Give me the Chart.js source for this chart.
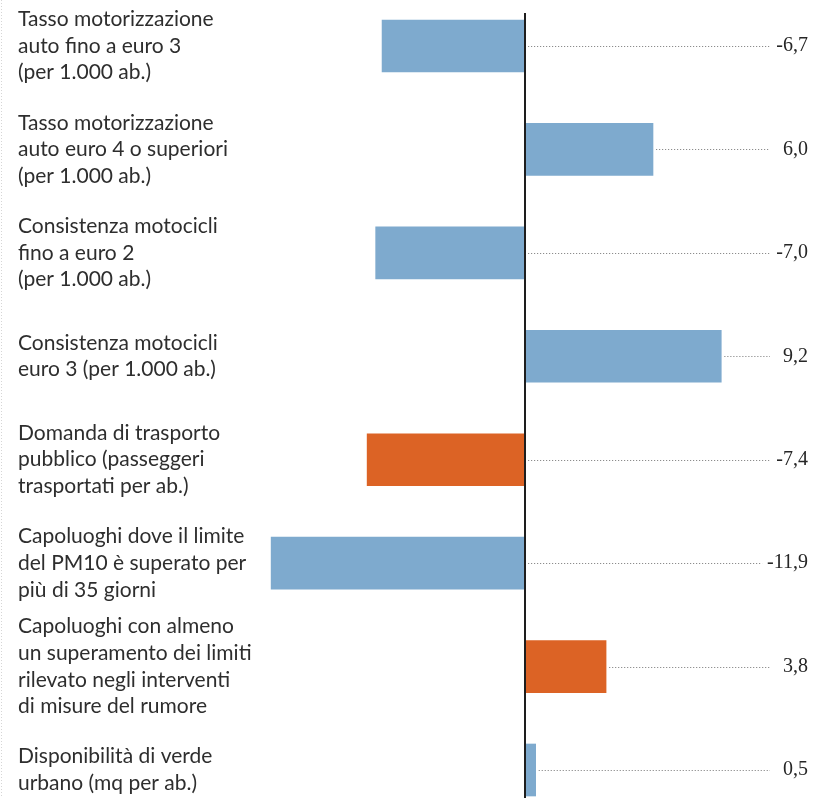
<!DOCTYPE html>
<html lang="it">
<head>
<meta charset="utf-8">
<title>Indicatori ambientali</title>
<script src="https://cdn.jsdelivr.net/npm/chart.js@4/dist/chart.umd.min.js"></script>
<style>
  html, body { margin: 0; padding: 0; background: #fff; }
  #wrap { position: relative; width: 814px; height: 798px; }
</style>
</head>
<body>
<div id="wrap"><canvas id="indicatorChart"></canvas></div>
<script>
// Indicator names (multi-line) and variation values
const indicatorLabels = [
    ['Tasso motorizzazione', 'auto fino a euro 3', '(per 1.000 ab.)'],
    ['Tasso motorizzazione', 'auto euro 4 o superiori', '(per 1.000 ab.)'],
    ['Consistenza motocicli', 'fino a euro 2', '(per 1.000 ab.)'],
    ['Consistenza motocicli', 'euro 3 (per 1.000 ab.)'],
    ['Domanda di trasporto', 'pubblico (passeggeri', 'trasportati per ab.)'],
    ['Capoluoghi dove il limite', 'del PM10 è superato per', 'più di 35 giorni'],
    ['Capoluoghi con almeno', 'un superamento dei limiti', 'rilevato negli interventi', 'di misure del rumore'],
    ['Disponibilità di verde', 'urbano (mq per ab.)']
];
const variationValues = [-6.7, 6.0, -7.0, 9.2, -7.4, -11.9, 3.8, 0.5];
const highlightRows = [4, 6];

const BLUE = '#7eaace';
const ORANGE = '#dc6325';

const barColors = variationValues.map((v, i) => highlightRows.includes(i) ? ORANGE : BLUE);

const fmt = v => v.toFixed(1).replace('.', ',');

// zero axis, dotted leaders and value labels on the right
const leaderPlugin = {
    id: 'leaders',
    afterDatasetsDraw(chart) {
        const { ctx } = chart;
        const xs = chart.scales.x;
        const zeroX = xs.getPixelForValue(0);
        const meta = chart.getDatasetMeta(0);
        const textRight = 808;

        ctx.save();
        // faint dotted border on the far left
        ctx.strokeStyle = '#d6d6d6';
        ctx.lineWidth = 1;
        ctx.setLineDash([1, 2]);
        ctx.beginPath();
        ctx.moveTo(1.5, 0);
        ctx.lineTo(1.5, chart.height);
        ctx.stroke();

        ctx.font = '20px "Liberation Serif", "DejaVu Serif", serif';
        meta.data.forEach((bar, i) => {
            const txt = fmt(variationValues[i]);
            const w = ctx.measureText(txt).width;
            const start = Math.max(bar.x, zeroX) + 3;
            const end = Math.min(770, textRight - w - 5);
            ctx.strokeStyle = '#8c8c8c';
            ctx.setLineDash([1.2, 1.8]);
            ctx.beginPath();
            ctx.moveTo(start, Math.round(bar.y) + 0.5);
            ctx.lineTo(end, Math.round(bar.y) + 0.5);
            ctx.stroke();

            ctx.setLineDash([]);
            ctx.fillStyle = '#262626';
            ctx.textAlign = 'right';
            ctx.textBaseline = 'middle';
            ctx.fillText(txt, textRight, bar.y);
        });

        ctx.setLineDash([]);
        ctx.strokeStyle = '#1e1e1e';
        ctx.lineWidth = 2;
        ctx.beginPath();
        ctx.moveTo(zeroX, 13);
        ctx.lineTo(zeroX, chart.height);
        ctx.stroke();
        ctx.restore();
    }
};

new Chart(document.getElementById('indicatorChart'), {
    type: 'bar',
    data: {
        labels: indicatorLabels,
        datasets: [{
            data: variationValues,
            backgroundColor: barColors,
            borderWidth: 0,
            barThickness: 52,
            clip: false
        }]
    },
    options: {
        indexAxis: 'y',
        responsive: true,
        maintainAspectRatio: false,
        animation: false,
        layout: { padding: { left: 18, right: 33, top: 46, bottom: 28 } },
        plugins: {
            legend: { display: false },
            tooltip: { enabled: false }
        },
        scales: {
            x: {
                display: false,
                min: -12,
                max: 12
            },
            y: {
                offset: false,
                grid: { display: false },
                border: { display: false },
                afterFit(scale) {
                    // fixed label column; labels may overhang the plot area
                    scale.width = 251;
                    scale.paddingTop = 0;
                    scale.paddingBottom = 0;
                },
                ticks: {
                    autoSkip: false,
                    crossAlign: 'far',
                    color: '#2e2e2e',
                    font: { family: 'Lato, "Open Sans", sans-serif', size: 21, lineHeight: 1.27 }
                }
            }
        }
    },
    plugins: [leaderPlugin]
});
</script>
</body>
</html>
